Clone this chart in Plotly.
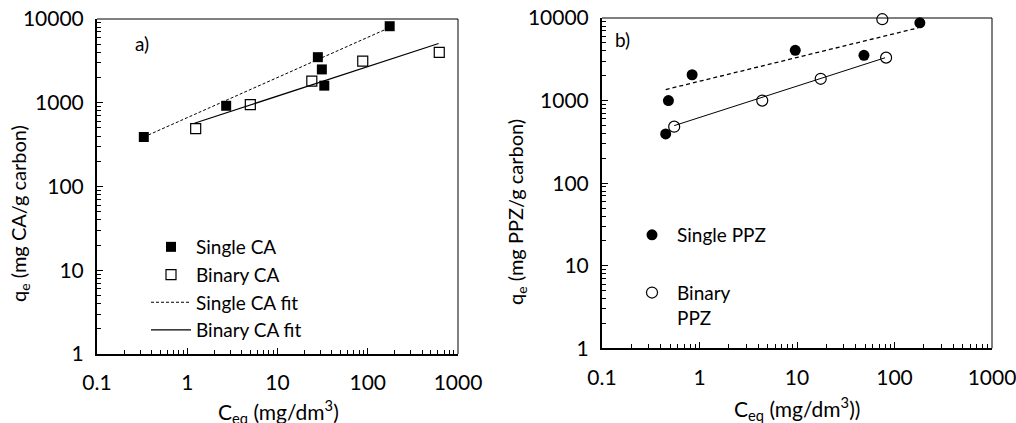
import plotly.graph_objects as go

# ---- Data ----
# Panel a) : CA
ca_single_x = [0.33, 2.7, 28, 31, 33, 175]
ca_single_y = [390, 920, 3500, 2500, 1600, 8200]
ca_binary_x = [1.24, 5.0, 24, 88, 620]
ca_binary_y = [490, 950, 1810, 3140, 4000]
ca_single_fit_x = [0.33, 175]
ca_single_fit_y = [390, 7900]
ca_binary_fit_x = [1.2, 610]
ca_binary_fit_y = [570, 5100]

# Panel b) : PPZ
ppz_single_x = [0.45, 0.48, 0.84, 9.6, 48.6, 182]
ppz_single_y = [394, 1000, 2055, 4060, 3530, 8730]
ppz_binary_x = [0.55, 4.4, 17.5, 82, 75]
ppz_binary_y = [483, 1000, 1836, 3310, 9670]
ppz_single_fit_x = [0.45, 175]
ppz_single_fit_y = [1360, 7600]
ppz_binary_fit_x = [0.55, 80]
ppz_binary_fit_y = [497, 3300]

x_tickvals = [0.1, 1, 10, 100, 1000]
x_ticktext = ["0.1", "1", "10", "100", "1000"]
y_tickvals = [1, 10, 100, 1000, 10000]
y_ticktext = ["1", "10", "100", "1000", "10000"]

FONT = "Lato, sans-serif"
LFS = 19   # legend
TFS = 21   # tick labels

fig = go.Figure()

# Panel a
fig.add_trace(go.Scatter(x=ca_single_fit_x, y=ca_single_fit_y, mode="lines", name="Single CA fit",
                         line=dict(color="black", width=1, dash="3px,2px"),
                         xaxis="x", yaxis="y", legend="legend", legendrank=3))
fig.add_trace(go.Scatter(x=ca_binary_fit_x, y=ca_binary_fit_y, mode="lines", name="Binary CA fit",
                         line=dict(color="black", width=1.2),
                         xaxis="x", yaxis="y", legend="legend", legendrank=4))
fig.add_trace(go.Scatter(x=ca_single_x, y=ca_single_y, mode="markers", name="Single CA",
                         marker=dict(symbol="square", size=10, color="black"),
                         xaxis="x", yaxis="y", legend="legend", legendrank=1, cliponaxis=False))
fig.add_trace(go.Scatter(x=ca_binary_x, y=ca_binary_y, mode="markers", name="Binary CA",
                         marker=dict(symbol="square-open", size=10, color="black", line=dict(width=1.2)),
                         xaxis="x", yaxis="y", legend="legend", legendrank=2, cliponaxis=False))

# Panel b
fig.add_trace(go.Scatter(x=ppz_single_fit_x, y=ppz_single_fit_y, mode="lines", name="Single PPZ fit",
                         line=dict(color="black", width=1.3, dash="4px,3px"),
                         xaxis="x2", yaxis="y2", showlegend=False))
fig.add_trace(go.Scatter(x=ppz_binary_fit_x, y=ppz_binary_fit_y, mode="lines", name="Binary PPZ fit",
                         line=dict(color="black", width=1),
                         xaxis="x2", yaxis="y2", showlegend=False))
fig.add_trace(go.Scatter(x=ppz_single_x, y=ppz_single_y, mode="markers", name="Single PPZ",
                         marker=dict(symbol="circle", size=11, color="black"),
                         xaxis="x2", yaxis="y2", legend="legend2", legendgroup="s", cliponaxis=False))
fig.add_trace(go.Scatter(x=ppz_binary_x, y=ppz_binary_y, mode="markers", name="Binary<br>PPZ",
                         marker=dict(symbol="circle-open", size=11, color="black", line=dict(width=1.2)),
                         xaxis="x2", yaxis="y2", legend="legend2", legendgroup="b", cliponaxis=False))

W, H = 1016, 423
ML, MR, MT, MB = 97, 24, 18, 69
PW, PH = W - ML - MR, H - MT - MB


def px(xp):
    return (xp - ML) / PW


def py(yp):
    return (H - MB - yp) / PH


def xaxis_cfg(domain, anchor):
    return dict(type="log", range=[-1, 3], domain=domain, anchor=anchor, automargin=False,
                tickmode="array", tickvals=x_tickvals, ticktext=x_ticktext, ticks="inside", ticklen=6,
                tickcolor="black", showline=True, linewidth=2, linecolor="black",
                showgrid=False, zeroline=False, ticklabelstandoff=9, ticklabeloverflow="allow",
                tickfont=dict(family=FONT, size=TFS, color="black"),
                minor=dict(ticks="inside", ticklen=4, tickcolor="black", dtick="D1", showgrid=False))


def yaxis_cfg(domain, anchor):
    return dict(type="log", range=[0, 4], domain=domain, anchor=anchor, automargin=False,
                tickmode="array", tickvals=y_tickvals, ticktext=y_ticktext, ticks="inside", ticklen=6,
                tickcolor="black", showline=True, linewidth=2, linecolor="black",
                showgrid=False, zeroline=False, ticklabelstandoff=7, ticklabeloverflow="allow",
                tickfont=dict(family=FONT, size=TFS, color="black"),
                minor=dict(ticks="inside", ticklen=4, tickcolor="black", dtick="D1", showgrid=False))


fig.update_layout(
    width=W, height=H,
    margin=dict(l=ML, r=MR, t=MT, b=MB, autoexpand=False),
    paper_bgcolor="white", plot_bgcolor="white",
    font=dict(family=FONT, size=LFS, color="black"),
    xaxis=xaxis_cfg([0, px(458)], "y"),
    yaxis=yaxis_cfg([0, py(19)], "x"),
    xaxis2=xaxis_cfg([px(602), 1.0], "y2"),
    yaxis2=yaxis_cfg([py(348.3), 1.0], "x2"),
    legend=dict(x=px(146), y=py(228), xanchor="left", yanchor="top", bgcolor="rgba(0,0,0,0)",
                borderwidth=0, itemwidth=40, font=dict(family=FONT, size=LFS, color="black"),
                traceorder="normal"),
    legend2=dict(x=px(627), y=py(216), xanchor="left", yanchor="top", bgcolor="rgba(0,0,0,0)",
                 borderwidth=0, itemwidth=40, valign="top", tracegroupgap=30,
                 font=dict(family=FONT, size=LFS, color="black")),
    showlegend=True,
)

# thin top/right frame lines
for xr, yr in (("x domain", "y domain"), ("x2 domain", "y2 domain")):
    fig.add_shape(type="line", xref=xr, yref=yr, x0=0, x1=1, y0=1, y1=1, line=dict(color="black", width=1))
    fig.add_shape(type="line", xref=xr, yref=yr, x0=1, x1=1, y0=0, y1=1, line=dict(color="black", width=1))


def label(text, xp, yp, size, angle=0):
    fig.add_annotation(text=text, x=px(xp), y=py(yp), xref="paper", yref="paper",
                       xanchor="center", yanchor="middle", textangle=angle, showarrow=False,
                       font=dict(family=FONT, size=size, color="black"))


label("a)", 142, 44, 19)
label("b)", 622, 39, 19)
label("q<sub>e</sub> (mg CA/g carbon)", 20, 214, 20, -90)
label("q<sub>e</sub> (mg PPZ/g carbon)", 517, 212, 20, -90)
label("C<sub>eq</sub> (mg/dm<sup>3</sup>)", 278, 411, 21)
label("C<sub>eq</sub> (mg/dm<sup>3</sup>))", 797, 408, 21)

fig.write_html("out.html", config={"displayModeBar": False},
               post_script="document.body.style.margin='0px';document.body.style.overflow='hidden';")
